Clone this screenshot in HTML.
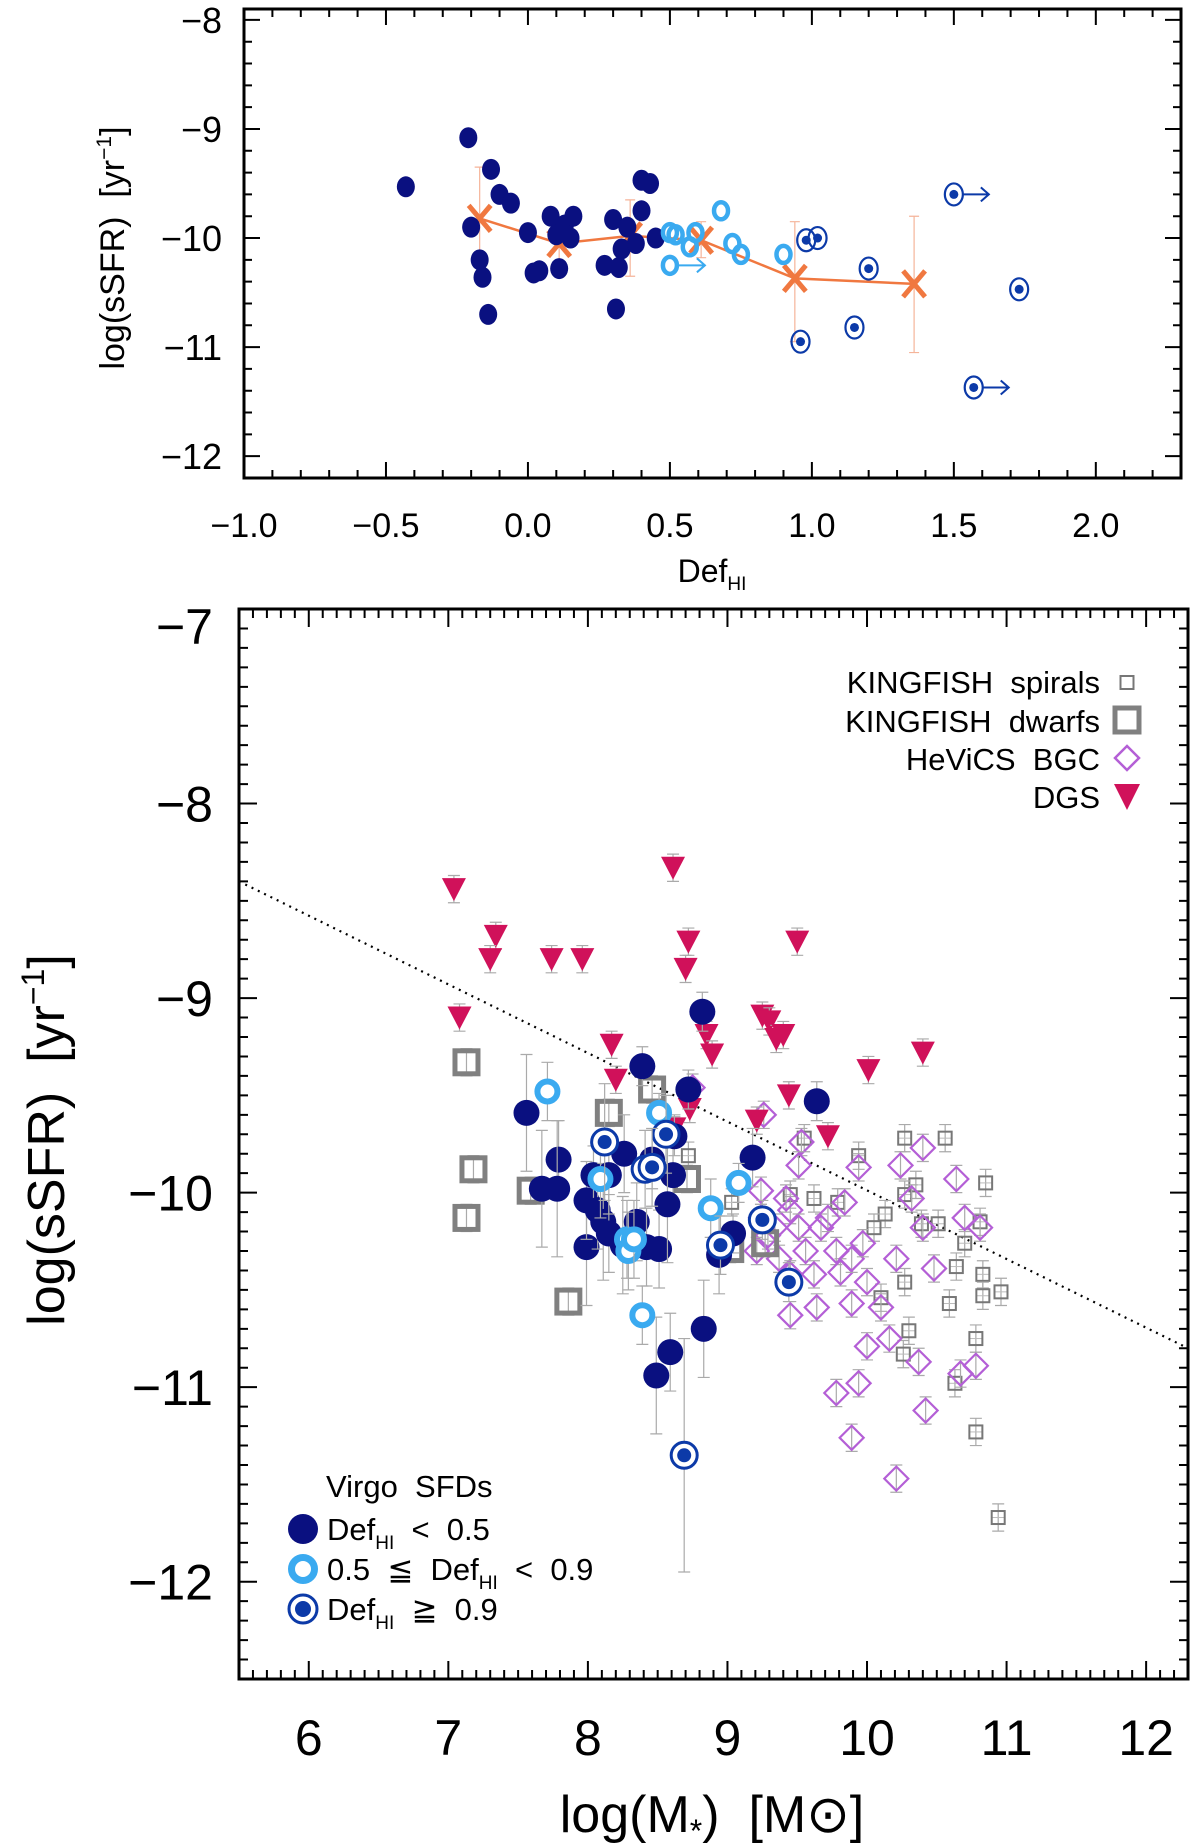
<!DOCTYPE html>
<html><head><meta charset="utf-8"><style>
html,body{margin:0;padding:0;background:#fff}
svg{display:block;font-family:"Liberation Sans",sans-serif}
text{white-space:pre}
</style></head><body>
<svg id="chart" width="1200" height="1845" viewBox="0 0 1200 1845" xmlns="http://www.w3.org/2000/svg">
<g id="top"></g>
<g id="bot"></g>
</svg>
<script>
// ---------- TOP PANEL DATA ----------
const topNavyX=[-0.43,-0.21,-0.2,-0.17,-0.16,-0.14,-0.13,-0.1,-0.06,0.0,0.02,0.04,0.08,0.1,0.11,0.13,0.15,0.16,0.27,0.3,0.31,0.32,0.33,0.35,0.38,0.4,0.4,0.43,0.45];
const topNavyY=[-9.53,-9.08,-9.9,-10.2,-10.36,-10.7,-9.37,-9.6,-9.68,-9.95,-10.32,-10.3,-9.8,-9.97,-10.28,-9.88,-10.0,-9.8,-10.25,-9.83,-10.65,-10.27,-10.1,-9.9,-10.05,-9.75,-9.47,-9.5,-10.0];
const topLightX=[0.5,0.52,0.57,0.59,0.68,0.72,0.75,0.9,0.5];
const topLightY=[-9.95,-9.97,-10.08,-9.95,-9.75,-10.05,-10.15,-10.15,-10.25];
const topLightArrow=[0,0,0,0,0,0,0,0,1];
const topRingX=[0.96,0.98,1.02,1.15,1.2,1.5,1.57,1.73];
const topRingY=[-10.95,-10.02,-10.0,-10.82,-10.28,-9.6,-11.37,-10.47];
const topRingArrow=[0,0,0,0,0,1,1,0];
const binX=[-0.17,0.11,0.36,0.61,0.94,1.36];
const binY=[-9.82,-10.05,-9.98,-10.02,-10.37,-10.42];
const binHi=[-9.35,-9.9,-9.65,-9.85,-9.85,-9.8];
const binLo=[-10.33,-10.22,-10.35,-10.18,-10.95,-11.05];
const topXTicks=[-1.0,-0.5,0.0,0.5,1.0,1.5,2.0];
const topXLabels=["\u22121.0","\u22120.5","0.0","0.5","1.0","1.5","2.0"];
const topYTicks=[-8,-9,-10,-11,-12];
const topYLabels=["\u22128","\u22129","\u221210","\u221211","\u221212"];

// ---------- BOTTOM PANEL DATA ----------
const dgsX=[7.04,7.08,7.34,7.30,7.74,7.96,8.17,8.20,8.61,8.72,8.70,8.85,8.89,9.25,9.30,9.35,9.40,9.5,9.44,9.21,9.72,10.01,10.40,8.62,8.73];
const dgsY=[-8.44,-9.10,-8.68,-8.80,-8.80,-8.80,-9.24,-9.42,-8.33,-8.71,-8.85,-9.19,-9.29,-9.09,-9.12,-9.21,-9.19,-8.71,-9.50,-9.63,-9.71,-9.37,-9.28,-9.67,-9.57];
const navyX=[7.56,7.67,7.79,7.78,7.99,7.99,8.04,8.07,8.11,8.15,8.25,8.15,8.26,8.39,8.46,8.35,8.42,8.51,8.61,8.57,8.72,8.82,8.83,8.49,8.59,8.94,9.04,9.18,9.64,8.62];
const navyY=[-9.59,-9.98,-9.83,-9.98,-10.28,-10.04,-9.91,-10.09,-10.15,-10.21,-10.27,-9.91,-9.80,-9.35,-9.83,-10.15,-10.28,-10.29,-9.91,-10.06,-9.47,-9.07,-10.70,-10.94,-10.82,-10.32,-10.21,-9.82,-9.53,-9.71];
const navyErr=[0.3,0.3,0.2,0.35,0.3,0.2,0.15,0.2,0.3,0.2,0.25,0.2,0.2,0.1,0.15,0.2,0.2,0.2,0.15,0.3,0.1,0.1,0.25,0.3,0.2,0.2,0.1,0.15,0.1,0.1];
const lightX=[7.71,8.09,8.28,8.29,8.33,8.39,8.51,8.88,9.08];
const lightY=[-9.48,-9.93,-10.24,-10.30,-10.24,-10.63,-9.59,-10.08,-9.95];
const lightErr=[0.15,0.2,0.2,0.2,0.2,0.15,0.1,0.15,0.1];
const ringX=[8.12,8.56,8.41,8.46,8.95,9.25,9.44,8.69];
const ringY=[-9.74,-9.70,-9.88,-9.87,-10.27,-10.14,-10.46,-11.35];
const ringErr=[0.3,0.2,0.2,0.2,0.15,0.1,0.1,0.6];
const dwarfX=[7.13,7.18,7.13,7.59,7.86,8.15,8.46,8.71,9.02,9.27];
const dwarfY=[-9.33,-9.88,-10.13,-9.99,-10.56,-9.59,-9.47,-9.93,-10.29,-10.26];
const spiralX=[8.72,9.03,9.45,9.62,9.55,9.79,9.94,10.27,10.35,10.27,10.13,10.05,10.10,10.27,10.30,10.26,10.56,10.64,10.70,10.59,10.63,10.81,10.85,10.83,10.83,10.96,10.78,10.78,10.94,10.39,10.51];
const spiralY=[-9.81,-10.05,-10.01,-10.03,-9.72,-10.05,-9.81,-9.72,-9.96,-10.01,-10.11,-10.18,-10.54,-10.46,-10.71,-10.83,-9.72,-10.38,-10.26,-10.57,-10.98,-10.15,-9.95,-10.42,-10.53,-10.51,-10.75,-11.23,-11.67,-10.16,-10.16];
const bgcX=[9.26,9.53,9.51,9.24,9.45,9.51,9.56,9.62,9.45,9.64,9.67,9.72,9.78,9.81,9.89,9.89,9.97,9.94,10.00,9.84,9.94,9.78,10.00,10.16,10.10,10.21,10.24,10.40,10.32,10.40,10.48,10.37,10.42,10.21,9.89,10.64,10.70,10.67,10.78,10.81,9.34,9.37,9.29,9.21,9.42,9.45,8.75,9.24];
const bgcY=[-9.60,-9.74,-9.86,-9.99,-10.09,-10.18,-10.30,-10.42,-10.63,-10.59,-10.18,-10.13,-10.30,-10.41,-10.57,-10.34,-10.26,-9.87,-10.46,-10.05,-10.98,-11.03,-10.79,-10.75,-10.59,-10.34,-9.86,-9.77,-10.03,-10.18,-10.39,-10.87,-11.12,-11.47,-11.26,-9.93,-10.13,-10.93,-10.89,-10.18,-10.18,-10.34,-10.22,-10.30,-10.03,-10.42,-9.46,-10.13];
const botXTicks=[6,7,8,9,10,11,12];
const botXLabels=["6","7","8","9","10","11","12"];
const botYTicks=[-7,-8,-9,-10,-11,-12];
const botYLabels=["\u22127","\u22128","\u22129","\u221210","\u221211","\u221212"];
const fitX=[5.5,12.3];
const fitY=[-8.4,-10.8];

const NS="http://www.w3.org/2000/svg";
function mk(parent,tag,attrs){const e=document.createElementNS(NS,tag);for(const k in attrs)e.setAttribute(k,attrs[k]);parent.appendChild(e);return e;}

// ---------- TOP ----------
const T=document.getElementById('top');
const tX0=244,tX1=1181,tY0=9,tY1=478,txMin=-1.0,txMax=2.3,tyMin=-12.2,tyMax=-7.9;
const tx=v=>tX0+(v-txMin)/(txMax-txMin)*(tX1-tX0);
const ty=v=>tY1-(v-tyMin)/(tyMax-tyMin)*(tY1-tY0);
function frame(G,X0,X1,Y0,Y1,xs,ys,xmin,xmax,ymin,ymax,xmaj,xmin_,ymaj,ymin_,L){
  const f=mk(G,'rect',{x:X0,y:Y0,width:X1-X0,height:Y1-Y0,fill:'none',stroke:'#000','stroke-width':3});
  
  
  let d='';
  for(let i=Math.ceil(xmin/xmin_-1e-6);i*xmin_<=xmax+1e-9;i++){const v=i*xmin_;const maj=Math.abs(v/xmaj-Math.round(v/xmaj))<1e-6;const l=maj?L:L/2;const x=xs(v);d+=`M${x} ${Y1}v${-l}M${x} ${Y0}v${l}`;}
  for(let i=Math.ceil(ymin/ymin_-1e-6);i*ymin_<=ymax+1e-9;i++){const v=i*ymin_;const maj=Math.abs(v/ymaj-Math.round(v/ymaj))<1e-6;const l=maj?L:L/2;const y=ys(v);d+=`M${X0} ${y}h${l}M${X1} ${y}h${-l}`;}
  const p=mk(G,'path',{d:d,stroke:'#000','stroke-width':2,fill:'none'});
  
  
}
frame(T,tX0,tX1,tY0,tY1,tx,ty,txMin,txMax,tyMin,tyMax,0.5,0.1,1,0.2,16);
topXTicks.forEach((v,i)=>{const t=mk(T,'text',{x:tx(v),y:537,'font-size':34,'text-anchor':'middle'});t.textContent=topXLabels[i];

});
topYTicks.forEach((v,i)=>{const t=mk(T,'text',{x:tX0-22,y:ty(v)+13,'font-size':36,'text-anchor':'end'});t.textContent=topYLabels[i];

});
{const t=mk(T,'text',{x:712,y:582,'font-size':32,'text-anchor':'middle'});t.innerHTML='Def<tspan font-size="19" dy="8">HI</tspan>';


const y=mk(T,'text',{transform:'translate(124,248) rotate(-90)','font-size':34,'text-anchor':'middle'});y.innerHTML='log(sSFR)  [yr<tspan font-size="21" dy="-13">\u22121</tspan><tspan dy="13">]</tspan>';

}
{let d='';binX.forEach((v,i)=>{d+=(i?'L':'M')+tx(v)+' '+ty(binY[i]);});
const l=mk(T,'path',{d:d,stroke:'#f07840','stroke-width':2.5,fill:'none'});


binX.forEach((v,i)=>{const g=mk(T,'g',{});


const x=tx(v),y=ty(binY[i]);
mk(g,'path',{d:`M${x} ${ty(binHi[i])}V${ty(binLo[i])}M${x-5} ${ty(binHi[i])}h10M${x-5} ${ty(binLo[i])}h10`,stroke:'#f5b49a','stroke-width':1.2});
mk(g,'path',{d:`M${x-11} ${y-13}L${x+11} ${y+13}M${x-11} ${y+13}L${x+11} ${y-13}`,stroke:'#f07840','stroke-width':5});});}
topNavyX.forEach((v,i)=>{const e=mk(T,'ellipse',{cx:tx(v),cy:ty(topNavyY[i]),rx:9,ry:10.5,fill:'#0a1080'});

});
function arrow(G,x,y,col){mk(G,'path',{d:`M${x+9} ${y}h26M${x+27} ${y-7}l8 7l-8 7`,stroke:col,'stroke-width':2,fill:'none'});}
topLightX.forEach((v,i)=>{const g=mk(T,'g',{});


const x=tx(v),y=ty(topLightY[i]);mk(g,'ellipse',{cx:x,cy:y,rx:7,ry:8.5,fill:'none',stroke:'#3aaaf0','stroke-width':4.5});
if(topLightArrow[i])arrow(g,x,y,'#3aaaf0');});
topRingX.forEach((v,i)=>{const g=mk(T,'g',{});


const x=tx(v),y=ty(topRingY[i]);mk(g,'ellipse',{cx:x,cy:y,rx:9,ry:11,fill:'none',stroke:'#0c3aa8','stroke-width':2.2});mk(g,'circle',{cx:x,cy:y,r:4.5,fill:'#0c3aa8'});
if(topRingArrow[i])arrow(g,x,y,'#0c3aa8');});

// ---------- BOTTOM ----------
const B=document.getElementById('bot');
const bX0=239,bX1=1188,bY0=609,bY1=1679,bxMin=5.5,bxMax=12.3,byMin=-12.5,byMax=-7;
const bx=v=>bX0+(v-bxMin)/(bxMax-bxMin)*(bX1-bX0);
const by=v=>bY1-(v-byMin)/(byMax-byMin)*(bY1-bY0);
frame(B,bX0,bX1,bY0,bY1,bx,by,bxMin,bxMax,byMin,byMax,1,0.1,1,0.1,18);
botXTicks.forEach((v,i)=>{const t=mk(B,'text',{x:bx(v),y:1755,'font-size':50,'text-anchor':'middle'});t.textContent=botXLabels[i];

});
botYTicks.forEach((v,i)=>{const t=mk(B,'text',{x:bX0-26,y:by(v)+(i===0?35:18),'font-size':50,'text-anchor':'end'});t.textContent=botYLabels[i];

});
{const t=mk(B,'text',{x:712,y:1832,'font-size':52,'text-anchor':'middle'});t.innerHTML='log(M<tspan font-size="32" dy="10">*</tspan><tspan dy="-10">)  [M</tspan><tspan>\u2299</tspan>]';


const y=mk(B,'text',{transform:'translate(64,1140) rotate(-90)','font-size':52,'text-anchor':'middle'});y.innerHTML='log(sSFR)  [yr<tspan font-size="32" dy="-20">\u22121</tspan><tspan dy="20">]</tspan>';

}
{const l=mk(B,'line',{x1:bx(fitX[0]),y1:by(fitY[0]),x2:bx(fitX[1]),y2:by(fitY[1]),stroke:'#000','stroke-width':2.2,'stroke-dasharray':'2 5'});

}
function ebar(G,x,y,e){const y1=by(y+e),y2=by(y-e);mk(G,'path',{d:`M${x} ${y1}V${y2}M${x-6} ${y1}h12M${x-6} ${y2}h12`,stroke:'#aaa','stroke-width':1.2,fill:'none'});}
spiralX.forEach((v,i)=>{const g=mk(B,'g',{});


const x=bx(v),y=by(spiralY[i]);ebar(g,x,spiralY[i],0.07);mk(g,'line',{x1:x-6,y1:y,x2:x+6,y2:y,stroke:'#bbb','stroke-width':1});mk(g,'rect',{x:x-6.5,y:y-6.5,width:13,height:13,fill:'none',stroke:'#777','stroke-width':2});});
bgcX.forEach((v,i)=>{const g=mk(B,'g',{});


const x=bx(v),y=by(bgcY[i]);ebar(g,x,bgcY[i],0.07);mk(g,'path',{d:`M${x} ${y-12}L${x+12} ${y}L${x} ${y+12}L${x-12} ${y}Z`,fill:'none',stroke:'#b45fd6','stroke-width':2.2});});
dwarfX.forEach((v,i)=>{const g=mk(B,'g',{});


const x=bx(v),y=by(dwarfY[i]);ebar(g,x,dwarfY[i],0.07);mk(g,'rect',{x:x-11.5,y:y-11.5,width:23,height:23,fill:'none',stroke:'#808080','stroke-width':5});});
dgsX.forEach((v,i)=>{const g=mk(B,'g',{});


const x=bx(v),y=by(dgsY[i]);ebar(g,x,dgsY[i],0.07);mk(g,'path',{d:`M${x-12} ${y-11}L${x+12} ${y-11}L${x} ${y+12}Z`,fill:'#d0115a'});});
navyX.forEach((v,i)=>{const g=mk(B,'g',{});


const x=bx(v),y=by(navyY[i]);ebar(g,x,navyY[i],navyErr[i]);mk(g,'circle',{cx:x,cy:y,r:13,fill:'#0a1080'});});
lightX.forEach((v,i)=>{const g=mk(B,'g',{});


const x=bx(v),y=by(lightY[i]);ebar(g,x,lightY[i],lightErr[i]);mk(g,'circle',{cx:x,cy:y,r:10,fill:'#fff',stroke:'#3aaaf0','stroke-width':6});});
ringX.forEach((v,i)=>{const g=mk(B,'g',{});


const x=bx(v),y=by(ringY[i]);ebar(g,x,ringY[i],ringErr[i]);mk(g,'circle',{cx:x,cy:y,r:13,fill:'#fff',stroke:'#0c3aa8','stroke-width':3});mk(g,'circle',{cx:x,cy:y,r:7,fill:'#0c3aa8'});});

// legend top-right
{const L=mk(B,'g',{});


const labs=['KINGFISH  spirals','KINGFISH  dwarfs','HeViCS  BGC','DGS'];const ys=[693,732,770,808];
labs.forEach((s,i)=>{const t=mk(L,'text',{x:1100,y:ys[i],'font-size':31,'text-anchor':'end'});t.textContent=s;

});
const mx=1127;
mk(L,'rect',{x:mx-6.5,y:ys[0]-17,width:13,height:13,fill:'none',stroke:'#777','stroke-width':2});
mk(L,'rect',{x:mx-12,y:ys[1]-24,width:24,height:24,fill:'none',stroke:'#808080','stroke-width':5});
mk(L,'path',{d:`M${mx} ${ys[2]-24}L${mx+12} ${ys[2]-12}L${mx} ${ys[2]}L${mx-12} ${ys[2]-12}Z`,fill:'none',stroke:'#b45fd6','stroke-width':2.5});
mk(L,'path',{d:`M${mx-13} ${ys[3]-24}L${mx+13} ${ys[3]-24}L${mx} ${ys[3]+2}Z`,fill:'#d0115a'});}
// legend bottom-left
{const L=mk(B,'g',{});


const t0=mk(L,'text',{x:326,y:1497,'font-size':31});t0.textContent='Virgo  SFDs';


const rows=['Def<tspan font-size="19" dy="9">HI</tspan><tspan dy="-9">  &lt;  0.5</tspan>','0.5  \u2266  Def<tspan font-size="19" dy="9">HI</tspan><tspan dy="-9">  &lt;  0.9</tspan>','Def<tspan font-size="19" dy="9">HI</tspan><tspan dy="-9">  \u2267  0.9</tspan>'];
const ys=[1540,1580,1620];
rows.forEach((s,i)=>{const t=mk(L,'text',{x:327,y:ys[i],'font-size':31});t.innerHTML=s;

});
mk(L,'circle',{cx:303,cy:1529,r:15,fill:'#0a1080'});
mk(L,'circle',{cx:303,cy:1569,r:11.5,fill:'#fff',stroke:'#3aaaf0','stroke-width':7});
mk(L,'circle',{cx:303,cy:1609,r:14,fill:'#fff',stroke:'#0c3aa8','stroke-width':3});
mk(L,'circle',{cx:303,cy:1609,r:8,fill:'#0c3aa8'});}
</script>
</body></html>
